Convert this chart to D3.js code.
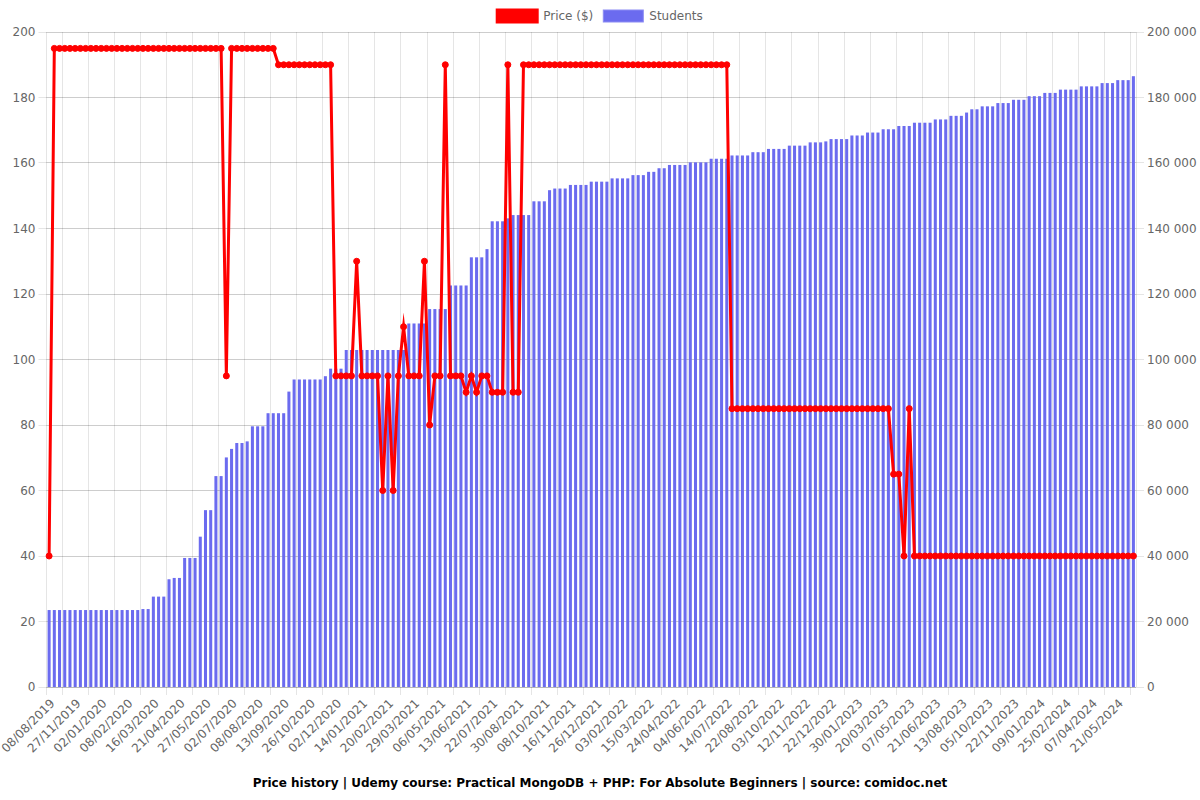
<!DOCTYPE html>
<html><head><meta charset="utf-8">
<script src="https://cdn.jsdelivr.net/npm/d3@7"></script>
<style>
html,body{margin:0;padding:0;background:#fff}
svg{display:block;font-family:"DejaVu Sans",sans-serif}
</style>
</head><body>
<svg id="chart" width="1200" height="800"></svg>
<script>
// visible x tick labels: one every 5 categories
const tickLabels = ["08/08/2019","27/11/2019","02/01/2020","08/02/2020","16/03/2020","21/04/2020","27/05/2020","02/07/2020","08/08/2020","13/09/2020","26/10/2020","02/12/2020","14/01/2021","20/02/2021","29/03/2021","06/05/2021","13/06/2021","22/07/2021","30/08/2021","08/10/2021","16/11/2021","26/12/2021","03/02/2022","15/03/2022","24/04/2022","04/06/2022","14/07/2022","22/08/2022","03/10/2022","12/11/2022","22/12/2022","30/01/2023","20/03/2023","07/05/2023","21/06/2023","13/08/2023","05/10/2023","22/11/2023","09/01/2024","25/02/2024","07/04/2024","21/05/2024"];
const labelEvery = 5;

// Price ($), one value per category
const price = [
40,195,195,195,195,195,195,195,195,195,
195,195,195,195,195,195,195,195,195,195,
195,195,195,195,195,195,195,195,195,195,
195,195,195,195,95,195,195,195,195,195,
195,195,195,195,190,190,190,190,190,190,
190,190,190,190,190,95,95,95,95,130,
95,95,95,95,60,95,60,95,110,95,
95,95,130,80,95,95,190,95,95,95,
90,95,90,95,95,90,90,90,190,90,
90,190,190,190,190,190,190,190,190,190,
190,190,190,190,190,190,190,190,190,190,
190,190,190,190,190,190,190,190,190,190,
190,190,190,190,190,190,190,190,190,190,
190,85,85,85,85,85,85,85,85,85,
85,85,85,85,85,85,85,85,85,85,
85,85,85,85,85,85,85,85,85,85,
85,85,65,65,40,85,40,40,40,40,
40,40,40,40,40,40,40,40,40,40,
40,40,40,40,40,40,40,40,40,40,
40,40,40,40,40,40,40,40,40,40,
40,40,40,40,40,40,40,40,40
];

// Students, one value per category
const students = [
23500,23500,23500,23500,23500,23500,23500,23500,23500,23500,
23500,23500,23500,23500,23500,23500,23500,23500,23800,23800,
27600,27600,27600,32900,33300,33300,39400,39400,39400,45900,
54000,54000,64400,64400,70100,72700,74500,74500,75000,79600,
79600,79600,83600,83600,83600,83600,90200,93900,93900,93900,
93900,93900,93900,94900,97200,97200,97200,102900,102900,102900,
102900,102900,102900,102900,102900,102900,102900,102900,102900,111000,
111000,111000,111000,115400,115400,115400,115400,122600,122600,122600,
122600,131200,131200,131200,133700,142200,142200,142200,143100,144100,
144100,144100,144100,148300,148300,148300,151700,152200,152200,152200,
153300,153300,153300,153300,154300,154300,154300,154300,155300,155300,
155300,155300,156300,156300,156300,157300,157300,158400,158400,159400,
159400,159400,159400,160200,160200,160200,160200,161300,161300,161300,
161300,162300,162300,162300,162300,163300,163300,163300,164300,164300,
164300,164300,165300,165300,165300,165300,166300,166300,166300,166600,
167300,167300,167300,167300,168400,168400,168400,169300,169300,169300,
170300,170300,170300,171300,171300,171300,172300,172300,172300,172300,
173300,173300,173300,174400,174400,174400,175400,176400,176400,177300,
177300,177300,178300,178300,178300,179300,179300,179300,180400,180400,
180400,181400,181400,181400,182400,182400,182400,182400,183400,183400,
183400,183400,184400,184400,184400,185300,185300,185300,186500
];

const priceTicks = [0,20,40,60,80,100,120,140,160,180,200];
const studentTicks = [0,20000,40000,60000,80000,100000,120000,140000,160000,180000,200000];

const seriesNames = ["Price ($)", "Students"];
const titleText = "Price history | Udemy course: Practical MongoDB + PHP: For Absolute Beginners | source: comidoc.net";

const RED = "#ff0000";
const BAR = "#6b6bef";
const BAR_BORDER = "#8c8cf3";
const GRID = "rgba(0,0,0,0.1)";
const TICK_COL = "#666";

const svg = d3.select("#chart");
const area = {left: 46.5, right: 1136, top: 32, bottom: 687};
const categories = price.map((_, i) => i);

const x = d3.scaleBand().domain(categories).range([area.left, area.right]).paddingInner(0).paddingOuter(0);
const cx = i => x(i) + x.bandwidth() / 2;
const yL = d3.scaleLinear().domain([0, 200]).range([area.bottom, area.top]);
const yR = d3.scaleLinear().domain([0, 200000]).range([area.bottom, area.top]);
const al = v => Math.round(v + 0.5) - 0.5;

const fmtR = d3.formatLocale({decimal: ",", thousands: "\u00a0", grouping: [3], currency: ["", ""]}).format(",d");

// horizontal grid (left axis) incl. tick marks on the left
const grid = svg.append("g");
grid.selectAll("line.hl").data(priceTicks).join("line")
  .attr("x1", area.left - 8).attr("x2", area.right)
  .attr("y1", d => al(yL(d))).attr("y2", d => al(yL(d)))
  .attr("stroke", GRID).attr("stroke-width", 1);
// horizontal grid (right axis) incl. tick marks on the right
grid.selectAll("line.hr").data(studentTicks).join("line")
  .attr("x1", area.left).attr("x2", area.right + 8)
  .attr("y1", d => al(yR(d))).attr("y2", d => al(yR(d)))
  .attr("stroke", GRID).attr("stroke-width", 1);

// vertical grid: between shown labels (offset grid)
const vIdx = [];
for (let k = 0; k * labelEvery < categories.length; k++) {
  const i = k * labelEvery + Math.ceil(labelEvery / 2);
  if (i < categories.length) vIdx.push(i);
}
grid.selectAll("line.v").data(vIdx).join("line")
  .attr("x1", d => al(x(d))).attr("x2", d => al(x(d)))
  .attr("y1", area.top).attr("y2", area.bottom + 8)
  .attr("stroke", GRID).attr("stroke-width", 1);

// axis borders
grid.append("line").attr("x1", al(area.left)).attr("x2", al(area.left)).attr("y1", area.top).attr("y2", area.bottom + 8).attr("stroke", GRID);
grid.append("line").attr("x1", al(area.right)).attr("x2", al(area.right)).attr("y1", area.top).attr("y2", area.bottom).attr("stroke", GRID);
grid.append("line").attr("x1", area.left).attr("x2", area.right).attr("y1", al(area.bottom)).attr("y2", al(area.bottom)).attr("stroke", GRID);

// bars
const bw = x.bandwidth() * 0.58;
svg.append("g").selectAll("rect").data(students).join("rect")
  .attr("x", (d, i) => cx(i) - bw / 2)
  .attr("width", bw)
  .attr("y", d => yR(d))
  .attr("height", d => yR(0) - yR(d))
  .attr("fill", BAR);

// price line
const line = d3.line().x((d, i) => cx(i)).y(d => yL(d));
svg.append("path").datum(price)
  .attr("d", line)
  .attr("fill", "none").attr("stroke", RED).attr("stroke-width", 3)
  .attr("stroke-linejoin", "miter").attr("stroke-miterlimit", 10);
svg.append("g").selectAll("circle").data(price).join("circle")
  .attr("cx", (d, i) => cx(i)).attr("cy", d => yL(d)).attr("r", 3)
  .attr("fill", RED).attr("stroke", RED).attr("stroke-width", 1);

// y axis labels
svg.append("g").selectAll("text").data(priceTicks).join("text")
  .attr("x", area.left - 11).attr("y", d => yL(d))
  .attr("text-anchor", "end").attr("dominant-baseline", "central")
  .attr("font-size", 12).attr("fill", TICK_COL).text(d => d);
svg.append("g").selectAll("text").data(studentTicks).join("text")
  .attr("x", area.right + 11).attr("y", d => yR(d))
  .attr("text-anchor", "start").attr("dominant-baseline", "central")
  .attr("font-size", 12).attr("fill", TICK_COL).text(d => fmtR(d));

// x axis labels
svg.append("g").selectAll("text").data(tickLabels).join("text")
  .attr("transform", (d, k) => `translate(${cx(k * labelEvery)},${area.bottom + 11}) rotate(-45)`)
  .attr("text-anchor", "end").attr("dominant-baseline", "hanging")
  .attr("font-size", 12).attr("fill", TICK_COL).text(d => d);

// legend
const lg = svg.append("g");
const items = [
  {name: seriesNames[0], fill: RED, stroke: RED, sw: 3},
  {name: seriesNames[1], fill: BAR, stroke: BAR_BORDER, sw: 1}
];
const widths = [];
items.forEach((it, j) => {
  const t = lg.append("text").attr("font-size", 12).attr("fill", TICK_COL).attr("dominant-baseline", "central").attr("y", 16).text(it.name);
  it.t = t;
  widths.push(40 + 6 + t.node().getComputedTextLength());
});
const total = d3.sum(widths) + 10 * (items.length - 1);
let lx = 600 - total / 2;
items.forEach((it, j) => {
  lg.append("rect").attr("x", lx).attr("y", 10).attr("width", 40).attr("height", 12)
    .attr("fill", it.fill).attr("stroke", it.stroke).attr("stroke-width", it.sw);
  it.t.attr("x", lx + 46);
  lx += widths[j] + 10;
});

// title
svg.append("text").attr("x", 600).attr("y", 783)
  .attr("text-anchor", "middle").attr("dominant-baseline", "central")
  .attr("font-size", 12).attr("font-weight", "bold").attr("fill", "#000")
  .text(titleText);
</script>
</body></html>
